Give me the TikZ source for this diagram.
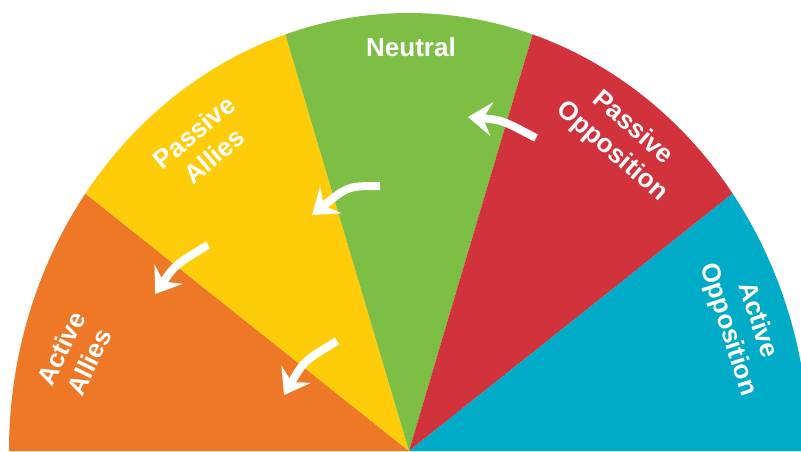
\documentclass[tikz,border=0pt]{standalone}
\usepackage{fontspec}
\setmainfont{Liberation Sans}
\usetikzlibrary{arrows.meta}
\definecolor{cOrange}{HTML}{EF7826}
\definecolor{cYellow}{HTML}{FECC08}
\definecolor{cGreen}{HTML}{7DBE44}
\definecolor{cRed}{HTML}{D1323C}
\definecolor{cTeal}{HTML}{00ABC7}
\begin{document}
\begin{tikzpicture}[x=1pt,y=1pt,
  lbl/.style={text=white, font=\fontsize{26}{31}\selectfont\bfseries, align=center, inner sep=0pt},
  arr/.style={draw=white, line width=8pt, -{Stealth[length=24pt,width=34pt,inset=9pt]}},
  wedge/.style={x radius=400, y radius=438}]
\useasboundingbox (0,0) rectangle (801,451);
\clip (0,0) rectangle (801,451);
\coordinate (C) at (409,0);
\fill[cOrange] (C) -- +(180:400 and 438) arc[wedge,start angle=180,end angle=144] -- cycle;
\fill[cYellow] (C) -- +(144:400 and 438) arc[wedge,start angle=144,end angle=108] -- cycle;
\fill[cGreen] (C) -- +(108:400 and 438) arc[wedge,start angle=108,end angle=72] -- cycle;
\fill[cRed] (C) -- +(72:400 and 438) arc[wedge,start angle=72,end angle=36] -- cycle;
\fill[cTeal] (C) -- +(36:400 and 438) arc[wedge,start angle=36,end angle=0] -- cycle;
% labels
\node[lbl] (neutral) at (411,404) {Neutral};
\node[lbl, rotate=40] (pallies) at (204,307) {Passive\\Allies};
\node[lbl, rotate=64] (aallies) at (75,96) {Active\\Allies};
\node[lbl, rotate=-41] (popp) at (622,311) {Passive\\Opposition};
\node[lbl, rotate=-72] (aopp) at (742.5,126) {Active\\Opposition};
% arrows
\coordinate (t1) at (380,265); \coordinate (h1) at (312,236);
\coordinate (t2) at (208,206); \coordinate (h2) at (155,157);
\coordinate (t3) at (337,110); \coordinate (h3) at (284,56);
\coordinate (t4) at (536,313); \coordinate (h4) at (468,334);
\draw[arr] (t1) .. controls (348,265) .. (h1);
\draw[arr] (t2) .. controls (175,186) .. (h2);
\draw[arr] (t3) .. controls (304,90) .. (h3);
\draw[arr] (t4) .. controls (502,331) .. (h4);
\end{tikzpicture}
\end{document}
